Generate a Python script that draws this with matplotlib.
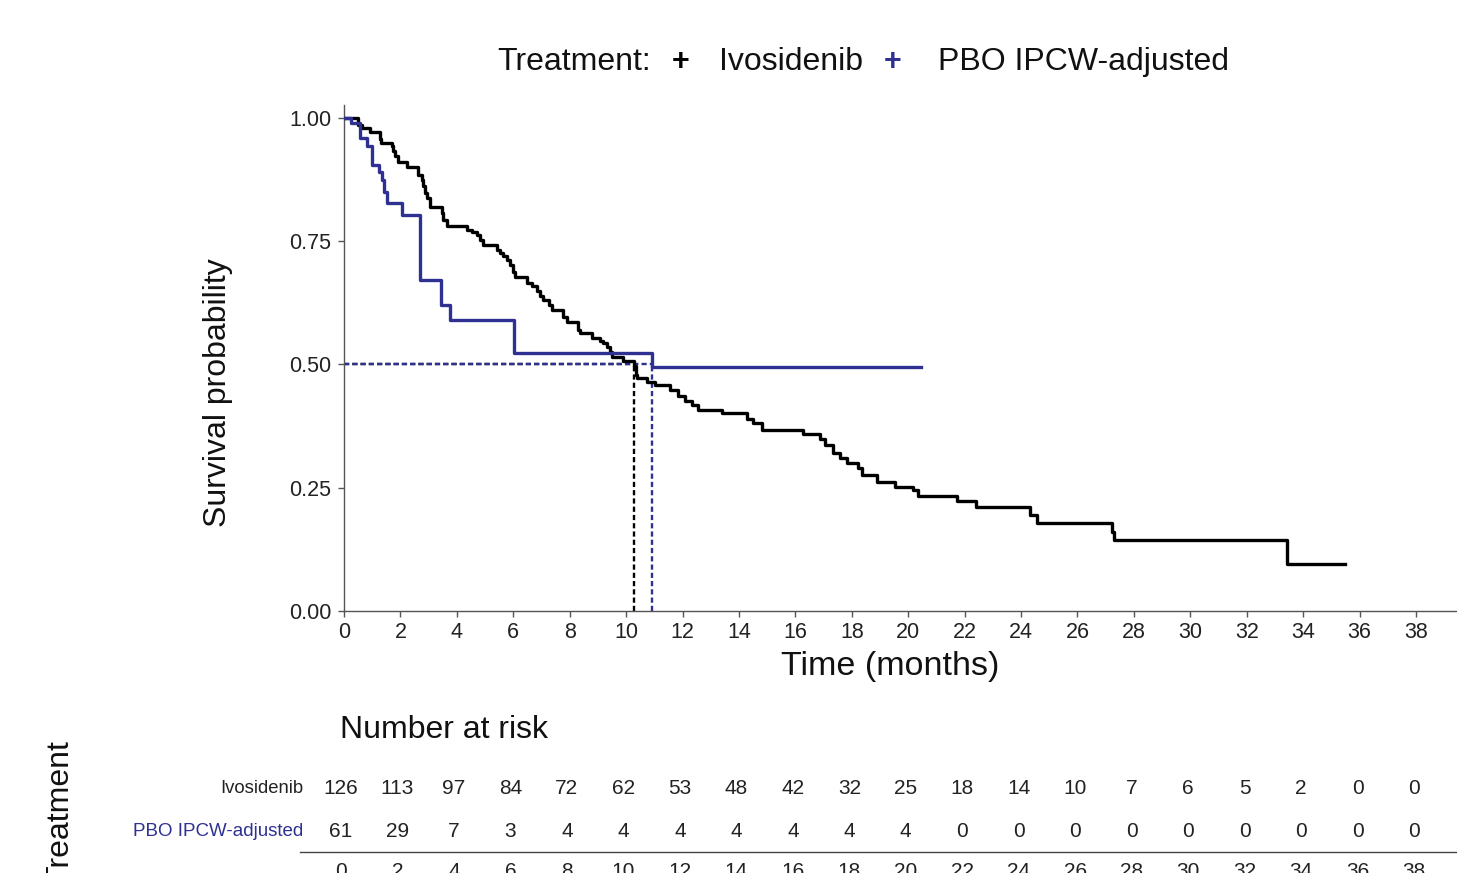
import matplotlib
matplotlib.use("Agg")
import matplotlib.pyplot as plt

plt.rcParams['font.family'] = ['Liberation Sans', 'DejaVu Sans']

# Kaplan-Meier steps (time in months, survival after the drop)
ivo_time = [0, 0.51, 0.63, 0.92, 1.28, 1.32, 1.69, 1.75, 1.81, 1.93, 2.22, 2.64, 2.75, 2.81, 2.87,
            2.93, 3.05, 3.46, 3.52, 3.64, 4.35, 4.53, 4.70, 4.82, 4.94, 5.41, 5.53, 5.65, 5.77,
            5.88, 6.00, 6.06, 6.48, 6.65, 6.83, 6.95, 7.07, 7.25, 7.36, 7.78, 7.89, 8.31, 8.37,
            8.78, 9.08, 9.19, 9.31, 9.43, 9.49, 9.90, 10.28, 10.34, 10.40, 10.73, 11.02, 11.56,
            11.85, 12.09, 12.32, 12.56, 13.39, 14.27, 14.51, 14.81, 16.28, 16.87, 17.05, 17.35,
            17.58, 17.82, 18.23, 18.35, 18.88, 19.53, 20.16, 20.36, 21.72, 22.40, 24.32, 24.55,
            27.21, 27.31, 33.42, 35.48]
ivo_surv = [1.0, 0.986, 0.979, 0.972, 0.957, 0.949, 0.942, 0.932, 0.922, 0.911, 0.901, 0.884, 0.874,
            0.861, 0.847, 0.837, 0.820, 0.807, 0.793, 0.780, 0.773, 0.769, 0.763, 0.752, 0.742,
            0.732, 0.726, 0.719, 0.712, 0.702, 0.688, 0.678, 0.665, 0.658, 0.648, 0.638, 0.631,
            0.621, 0.611, 0.597, 0.587, 0.570, 0.563, 0.553, 0.547, 0.543, 0.536, 0.526, 0.516,
            0.506, 0.496, 0.479, 0.472, 0.465, 0.458, 0.448, 0.435, 0.425, 0.418, 0.408, 0.401,
            0.390, 0.382, 0.367, 0.358, 0.348, 0.337, 0.321, 0.310, 0.300, 0.289, 0.276, 0.262,
            0.252, 0.245, 0.233, 0.223, 0.210, 0.195, 0.178, 0.161, 0.143, 0.095, 0.095]

pbo_time = [0, 0.25, 0.57, 0.80, 0.98, 1.25, 1.34, 1.42, 1.51, 2.04, 2.69, 3.44, 3.76, 6.03, 10.93, 20.44]
pbo_surv = [1.0, 0.989, 0.959, 0.942, 0.905, 0.891, 0.874, 0.850, 0.828, 0.803, 0.671, 0.620, 0.590,
            0.523, 0.494, 0.494]

ivo_median = 10.28
pbo_median = 10.93

risk_times = list(range(0, 40, 2))
ivo_risk = [126, 113, 97, 84, 72, 62, 53, 48, 42, 32, 25, 18, 14, 10, 7, 6, 5, 2, 0, 0]
pbo_risk = [61, 29, 7, 3, 4, 4, 4, 4, 4, 4, 4, 0, 0, 0, 0, 0, 0, 0, 0, 0]

black = '#000000'
blue = '#2E3192'
W, H = 1457, 873

fig = plt.figure(figsize=(W / 100, H / 100), dpi=100)

# main KM panel
ax = fig.add_axes([344 / W, 1 - 611 / H, (W - 344) / W, (611 - 105) / H])
ax.step(ivo_time, ivo_surv, where='post', color=black, lw=2.4, zorder=3)
ax.step(pbo_time, pbo_surv, where='post', color=blue, lw=2.4, zorder=3)

# median lines
dash = (0, (2.2, 1.3))
ax.plot([0, ivo_median], [0.5, 0.5], ls=dash, color=black, lw=1.7, zorder=2)
ax.plot([0, pbo_median], [0.5, 0.5], ls=dash, color=blue, lw=1.7, zorder=2)
ax.plot([ivo_median, ivo_median], [0, 0.5], ls=dash, color=black, lw=1.7, zorder=2)
ax.plot([pbo_median, pbo_median], [0, 0.5], ls=dash, color=blue, lw=1.7, zorder=2)

ax.set_xlim(0, (W - 344) / 28.21)
ax.set_ylim(0, 1.026)
ax.set_xticks(range(0, 40, 2))
ax.set_yticks([0, 0.25, 0.5, 0.75, 1.0])
ax.set_yticklabels(['0.00', '0.25', '0.50', '0.75', '1.00'])
for s in ['top', 'right']:
    ax.spines[s].set_visible(False)
for s in ['left', 'bottom']:
    ax.spines[s].set_color('#555555')
    ax.spines[s].set_linewidth(1.0)
ax.tick_params(axis='both', length=4, width=1.0, color='#555555', labelsize=15.5,
               labelcolor='#222222')
ax.tick_params(axis='y', pad=5)
ax.tick_params(axis='x', pad=4)

fig.text(218 / W, 1 - 393 / H, 'Survival probability', rotation=90, ha='center', va='center',
         fontsize=23, color='#111111')
fig.text(890 / W, 1 - 666 / H, 'Time (months)', ha='center', va='center', fontsize=24.5,
         color='#111111')

# legend across the top
ly = 1 - 62 / H
fig.text(497 / W, ly, 'Treatment:', ha='left', va='center', fontsize=23, color='#111111')
fig.text(681 / W, ly, '+', ha='center', va='center', fontsize=22, fontweight='bold', color=black)
fig.text(719 / W, ly, 'Ivosidenib', ha='left', va='center', fontsize=23, color='#111111')
fig.text(893 / W, ly, '+', ha='center', va='center', fontsize=22, fontweight='bold', color=blue)
fig.text(938 / W, ly, 'PBO IPCW-adjusted', ha='left', va='center', fontsize=23, color='#111111')

# risk table
rx0 = -41 / 28.24
rax = fig.add_axes([300 / W, 1 - 852 / H, (W - 300) / W, 92 / H])
rax.set_xlim(rx0, rx0 + (W - 300) / 28.24)
rax.set_ylim(0, 1)
for t, n1, n2 in zip(risk_times, ivo_risk, pbo_risk):
    rax.text(t, 0.685, str(n1), ha='center', va='center', fontsize=15, color='#222222')
    rax.text(t, 0.228, str(n2), ha='center', va='center', fontsize=15, color='#222222')
rax.text(-38 / 28.24, 0.685, 'Ivosidenib', ha='right', va='center', fontsize=13.3, color='#222222',
         clip_on=False)
rax.text(-38 / 28.24, 0.228, 'PBO IPCW-adjusted', ha='right', va='center', fontsize=13.5, color=blue,
         clip_on=False)
for s in ['top', 'right', 'left']:
    rax.spines[s].set_visible(False)
rax.spines['bottom'].set_color('#444444')
rax.spines['bottom'].set_linewidth(1.0)
rax.set_yticks([])
rax.set_xticks(risk_times)
rax.tick_params(axis='x', length=0, pad=7, labelsize=15, labelcolor='#222222')

fig.text(340 / W, 1 - 730 / H, 'Number at risk', ha='left', va='center', fontsize=23,
         color='#111111')
fig.text(60 / W, 1 - 813 / H, 'Treatment', rotation=90, ha='center', va='center', fontsize=23,
         color='#111111')

fig.savefig('out.png', dpi=100)
